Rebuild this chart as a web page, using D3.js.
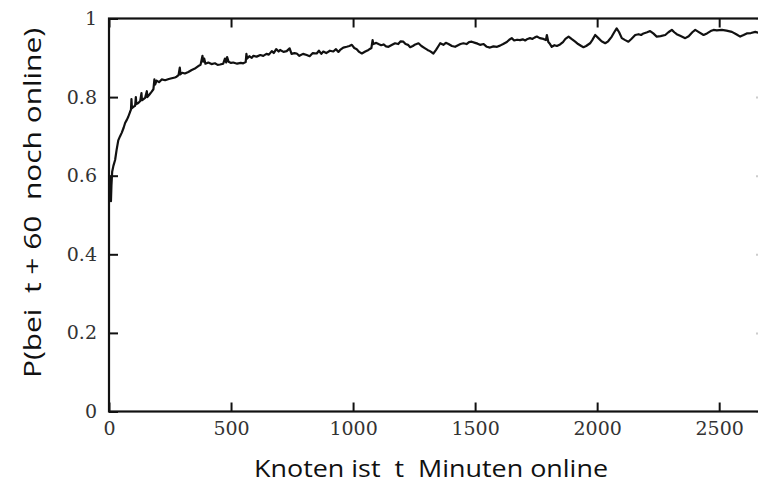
<!DOCTYPE html>
<html lang="de">
<head>
<meta charset="UTF-8" />
<title>P(bei t + 60 noch online)</title>
<script src="https://d3js.org/d3.v7.min.js"></script>
<style>
    body { margin: 0; background: #fff; }
    .tick text { font-family: "DejaVu Serif", serif; font-size: 19px; fill: #333; }
    .tick line { stroke: #111; stroke-width: 2; }
    .label { font-family: "Open Sans", sans-serif; font-size: 24px; fill: #111; }
</style>
</head>
<body>
<svg id="chart" width="758" height="485"></svg>
<script>
    // minutes online (t) and probability of still being online at t + 60
    const minutes = [3, 6, 8, 10, 13, 18, 25, 31, 38, 45, 52, 60, 66, 73, 79, 86, 90, 92, 94, 100,
        107, 110, 112, 120, 128, 133, 135, 148, 155, 157, 165, 175, 182, 186, 189, 195, 205, 216, 230, 245,
        257, 270, 277, 285, 290, 293, 300, 311, 325, 339, 350, 366, 375, 383, 386, 390, 395, 407, 420, 434,
        445, 455, 468, 475, 480, 484, 490, 500, 509, 525, 540, 550, 560, 563, 566, 575, 585, 591, 605, 620,
        632, 645, 655, 667, 675, 685, 695, 701, 715, 728, 740, 748, 760, 769, 780, 795, 810, 822, 835, 851,
        860, 870, 878, 890, 905, 919, 930, 940, 947, 960, 974, 985, 995, 1005, 1015, 1025, 1036, 1050, 1063, 1075,
        1080, 1083, 1095, 1104, 1115, 1125, 1135, 1145, 1160, 1172, 1185, 1195, 1206, 1215, 1225, 1234, 1245, 1255, 1268, 1280,
        1295, 1305, 1315, 1329, 1340, 1350, 1357, 1370, 1380, 1391, 1405, 1418, 1430, 1440, 1452, 1465, 1475, 1486, 1500, 1510,
        1520, 1535, 1548, 1561, 1575, 1590, 1602, 1615, 1630, 1640, 1650, 1660, 1672, 1684, 1695, 1705, 1715, 1725, 1735, 1745,
        1753, 1765, 1780, 1790, 1794, 1800, 1807, 1814, 1825, 1835, 1848, 1860, 1870, 1883, 1895, 1910, 1922, 1935, 1944, 1955,
        1971, 1980, 1992, 2005, 2018, 2033, 2045, 2060, 2070, 2080, 2090, 2101, 2115, 2128, 2140, 2156, 2170, 2180, 2190, 2205,
        2217, 2230, 2244, 2260, 2279, 2292, 2306, 2316, 2326, 2340, 2361, 2375, 2390, 2402, 2415, 2436, 2450, 2465, 2477, 2490,
        2511, 2530, 2552, 2570, 2586, 2600, 2613, 2630, 2648, 2670, 2690];
    const stillOnline = [0.600, 0.550, 0.535, 0.575, 0.610, 0.625, 0.640, 0.665, 0.690, 0.700, 0.709, 0.722, 0.734, 0.742, 0.750, 0.762, 0.768, 0.795, 0.772, 0.775,
        0.778, 0.800, 0.782, 0.785, 0.790, 0.810, 0.792, 0.798, 0.815, 0.800, 0.806, 0.814, 0.820, 0.845, 0.832, 0.842, 0.838, 0.845, 0.843, 0.846,
        0.848, 0.850, 0.852, 0.856, 0.875, 0.858, 0.862, 0.860, 0.864, 0.869, 0.872, 0.879, 0.882, 0.905, 0.890, 0.898, 0.885, 0.888, 0.884, 0.886,
        0.882, 0.883, 0.885, 0.898, 0.888, 0.902, 0.890, 0.887, 0.888, 0.885, 0.887, 0.886, 0.889, 0.910, 0.898, 0.904, 0.900, 0.905, 0.903, 0.907,
        0.905, 0.910, 0.908, 0.917, 0.912, 0.922, 0.916, 0.920, 0.915, 0.917, 0.924, 0.910, 0.912, 0.911, 0.905, 0.910, 0.907, 0.904, 0.912, 0.911,
        0.918, 0.910, 0.916, 0.912, 0.918, 0.916, 0.922, 0.915, 0.920, 0.926, 0.928, 0.930, 0.933, 0.925, 0.922, 0.915, 0.911, 0.916, 0.920, 0.925,
        0.945, 0.935, 0.938, 0.935, 0.932, 0.934, 0.929, 0.928, 0.933, 0.937, 0.935, 0.942, 0.941, 0.935, 0.933, 0.927, 0.930, 0.934, 0.937, 0.930,
        0.924, 0.920, 0.917, 0.911, 0.920, 0.930, 0.937, 0.933, 0.938, 0.935, 0.930, 0.928, 0.932, 0.935, 0.937, 0.935, 0.940, 0.941, 0.938, 0.936,
        0.933, 0.935, 0.928, 0.926, 0.929, 0.928, 0.931, 0.935, 0.940, 0.946, 0.950, 0.944, 0.946, 0.945, 0.947, 0.944, 0.948, 0.950, 0.948, 0.952,
        0.954, 0.950, 0.948, 0.945, 0.958, 0.940, 0.935, 0.928, 0.932, 0.930, 0.934, 0.940, 0.948, 0.954, 0.948, 0.941, 0.935, 0.930, 0.927, 0.930,
        0.937, 0.945, 0.958, 0.950, 0.942, 0.937, 0.942, 0.954, 0.965, 0.975, 0.965, 0.950, 0.945, 0.941, 0.948, 0.958, 0.960, 0.958, 0.962, 0.965,
        0.968, 0.962, 0.954, 0.955, 0.958, 0.965, 0.971, 0.965, 0.960, 0.956, 0.950, 0.955, 0.965, 0.971, 0.966, 0.958, 0.962, 0.968, 0.971, 0.970,
        0.971, 0.969, 0.966, 0.960, 0.954, 0.958, 0.962, 0.963, 0.966, 0.962, 0.960];

    const xTicks = [0, 500, 1000, 1500, 2000, 2500];
    const yTicks = [0, 0.2, 0.4, 0.6, 0.8, 1];
    const yTickLabels = ["0", "0.2", "0.4", "0.6", "0.8", "1"];

    const svg = d3.select("#chart");

    const plotLeft = 109, plotRight = 768, plotTop = 18.5, plotBottom = 411.5;

    const x = d3.scaleLinear().domain([0, 2700]).range([plotLeft, plotRight]);
    const y = d3.scaleLinear().domain([0, 1]).range([plotBottom, plotTop]);

    // axes with inward ticks
    svg.append("g")
        .attr("transform", `translate(0,${plotBottom})`)
        .call(d3.axisBottom(x).tickValues(xTicks).tickSize(-9).tickPadding(10)
            .tickFormat(d3.format("d")).tickSizeOuter(0))
        .call(g => g.select(".domain").remove());

    svg.append("g")
        .attr("transform", `translate(0,${plotTop})`)
        .call(d3.axisTop(x).tickValues(xTicks).tickSize(-9).tickFormat("").tickSizeOuter(0))
        .call(g => g.select(".domain").remove());

    svg.append("g")
        .attr("transform", `translate(${plotLeft},0)`)
        .call(d3.axisLeft(y).tickValues(yTicks).tickSize(-9).tickPadding(12)
            .tickFormat((d, i) => yTickLabels[i]).tickSizeOuter(0))
        .call(g => g.select(".domain").remove());

    svg.append("g")
        .attr("transform", `translate(${plotRight},0)`)
        .call(d3.axisRight(y).tickValues(yTicks).tickSize(-12).tickFormat("").tickSizeOuter(0))
        .call(g => g.select(".domain").remove())
        .selectAll(".tick line").style("stroke", "#ccc");

    // frame
    svg.append("rect")
        .attr("x", plotLeft).attr("y", plotTop)
        .attr("width", plotRight - plotLeft).attr("height", plotBottom - plotTop)
        .attr("fill", "none")
        .attr("stroke", "#111")
        .attr("stroke-width", 2.2);

    // curve
    const line = d3.line()
        .x((d, i) => x(minutes[i]))
        .y(d => y(d));

    svg.append("path")
        .datum(stillOnline)
        .attr("d", line)
        .attr("fill", "none")
        .attr("stroke", "#111")
        .attr("stroke-width", 2.2)
        .attr("stroke-linejoin", "round");

    // axis labels
    svg.append("text")
        .attr("class", "label")
        .attr("x", 431)
        .attr("y", 477)
        .attr("text-anchor", "middle")
        .attr("xml:space", "preserve")
        .attr("textLength", 354)
        .attr("lengthAdjust", "spacingAndGlyphs")
        .text("Knoten ist  t  Minuten online");

    svg.append("text")
        .attr("class", "label")
        .attr("transform", "translate(41,203) rotate(-90)")
        .attr("text-anchor", "middle")
        .attr("xml:space", "preserve")
        .attr("textLength", 350)
        .attr("lengthAdjust", "spacingAndGlyphs")
        .text("P(bei  t + 60  noch online)");
</script>
</body>
</html>
